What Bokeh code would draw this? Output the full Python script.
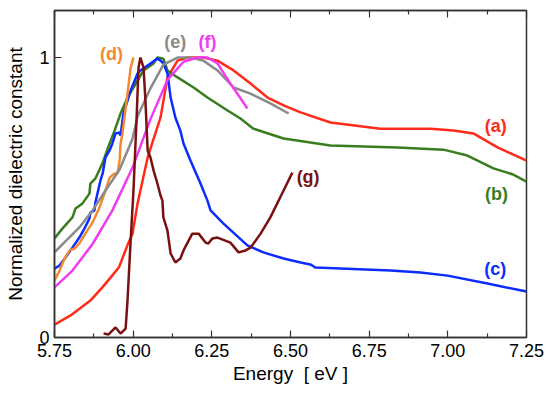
from bokeh.plotting import figure
from bokeh.models import Range1d, FixedTicker, PrintfTickFormatter, LinearAxis
from bokeh.core.properties import value
from bokeh.embed import file_html
from bokeh.resources import INLINE

# ---- data ----
a_x = [5.750, 5.801, 5.864, 5.902, 5.928, 5.955, 5.982, 5.998, 6.014, 6.030, 6.046, 6.087, 6.109,
       6.141, 6.173, 6.223, 6.268, 6.319, 6.373, 6.427, 6.478, 6.532, 6.627, 6.786, 6.945, 7.018,
       7.081, 7.158, 7.250]
a_y = [0.046, 0.079, 0.132, 0.179, 0.214, 0.251, 0.330, 0.371, 0.479, 0.561, 0.643, 0.786, 0.929,
       0.989, 1.000, 1.000, 0.989, 0.954, 0.907, 0.857, 0.829, 0.804, 0.768, 0.746, 0.746, 0.739,
       0.729, 0.679, 0.632]

b_x = [5.750, 5.775, 5.807, 5.817, 5.839, 5.861, 5.864, 5.880, 5.902, 5.925, 5.941, 5.960, 5.982,
       6.014, 6.033, 6.065, 6.077, 6.096, 6.109, 6.141, 6.192, 6.236, 6.300, 6.341, 6.382, 6.478,
       6.627, 6.840, 6.986, 7.062, 7.145, 7.208, 7.250]
b_y = [0.354, 0.389, 0.429, 0.461, 0.479, 0.514, 0.550, 0.568, 0.621, 0.693, 0.739, 0.800, 0.857,
       0.918, 0.954, 0.979, 1.000, 0.996, 0.954, 0.929, 0.893, 0.857, 0.811, 0.782, 0.746, 0.711,
       0.686, 0.679, 0.671, 0.650, 0.604, 0.582, 0.557]

c_x = [5.750, 5.766, 5.785, 5.807, 5.829, 5.845, 5.861, 5.864, 5.877, 5.880, 5.896, 5.903, 5.912,
       5.925, 5.934, 5.944, 5.957, 5.960, 5.969, 5.992, 6.014, 6.023, 6.055, 6.077, 6.087, 6.096,
       6.109, 6.112, 6.119, 6.134, 6.150, 6.160, 6.182, 6.214, 6.236, 6.246, 6.287, 6.363, 6.414,
       6.478, 6.532, 6.563, 6.579, 6.818, 6.913, 6.999, 7.126, 7.250]
c_y = [0.246, 0.257, 0.286, 0.321, 0.357, 0.389, 0.425, 0.446, 0.454, 0.482, 0.561, 0.586, 0.643,
       0.668, 0.693, 0.729, 0.732, 0.721, 0.800, 0.882, 0.943, 0.954, 0.979, 0.996, 0.989, 0.979,
       0.943, 0.918, 0.857, 0.786, 0.739, 0.693, 0.632, 0.550, 0.489, 0.454, 0.407, 0.329, 0.304,
       0.282, 0.268, 0.261, 0.250, 0.239, 0.232, 0.221, 0.193, 0.164]

d_x = [5.750, 5.766, 5.782, 5.798, 5.814, 5.829, 5.848, 5.871, 5.893, 5.912, 5.925, 5.941, 5.950,
       5.957, 5.960, 5.966, 5.982, 5.992, 6.001]
d_y = [0.204, 0.239, 0.282, 0.311, 0.318, 0.336, 0.371, 0.411, 0.464, 0.525, 0.571, 0.586, 0.586,
       0.632, 0.693, 0.729, 0.871, 0.964, 1.000]

e_x = [5.750, 5.787, 5.829, 5.871, 5.912, 5.957, 5.998, 6.014, 6.055, 6.096, 6.141, 6.182, 6.223,
       6.268, 6.319, 6.373, 6.436, 6.494]
e_y = [0.304, 0.346, 0.393, 0.454, 0.525, 0.600, 0.710, 0.790, 0.890, 0.975, 1.000, 1.000, 0.989,
       0.954, 0.893, 0.871, 0.836, 0.800]

f_x = [5.750, 5.807, 5.871, 5.934, 5.998, 6.030, 6.055, 6.109, 6.160, 6.204, 6.236, 6.268, 6.309,
       6.363]
f_y = [0.179, 0.239, 0.334, 0.454, 0.607, 0.704, 0.780, 0.920, 0.985, 1.000, 1.000, 0.979, 0.907,
       0.818]

g_x = [5.906, 5.922, 5.944, 5.960, 5.976, 5.982, 5.992, 6.001, 6.011, 6.017, 6.023, 6.033, 6.039,
       6.046, 6.055, 6.065, 6.077, 6.087, 6.093, 6.096, 6.109, 6.119, 6.134, 6.150, 6.160, 6.188,
       6.208, 6.230, 6.239, 6.252, 6.268, 6.309, 6.335, 6.357, 6.373, 6.405, 6.436, 6.478, 6.506]
g_y = [0.014, 0.011, 0.036, 0.014, 0.032, 0.132, 0.346, 0.525, 0.786, 0.964, 1.000, 0.964, 0.846,
       0.668, 0.643, 0.596, 0.550, 0.507, 0.489, 0.429, 0.382, 0.300, 0.268, 0.282, 0.311, 0.371,
       0.371, 0.339, 0.336, 0.354, 0.357, 0.339, 0.304, 0.311, 0.321, 0.371, 0.429, 0.525, 0.589]

series_names = ["(a)", "(b)", "(c)", "(d)", "(e)", "(f)", "(g)"]
series_colors = ["#ff2a1a", "#3a7d1f", "#0d2cff", "#f28a30", "#8a8a8a", "#f03cf0", "#7a1010"]
label_x = [7.152, 7.155, 7.151, 5.931, 6.134, 6.236, 6.556]
label_y = [0.757, 0.511, 0.246, 1.011, 1.057, 1.057, 0.575]

x_ticks = [5.75, 6.00, 6.25, 6.50, 6.75, 7.00, 7.25]
x_minor = [5.875, 6.125, 6.375, 6.625, 6.875, 7.125]
y_ticks = [0, 1]

FONT = "Liberation Sans"
AX = "#333333"

p = figure(width=550, height=396, output_backend="svg", toolbar_location=None,
           x_range=Range1d(5.75, 7.25), y_range=Range1d(0, 1.168),
           min_border_left=54, min_border_right=24, min_border_top=10, min_border_bottom=59)
p.background_fill_color = "white"
p.border_fill_color = "white"
p.xgrid.visible = False
p.ygrid.visible = False
p.outline_line_color = AX
p.outline_line_width = 1.5

xs = [a_x, b_x, c_x, d_x, e_x, f_x, g_x]
ys = [a_y, b_y, c_y, d_y, e_y, f_y, g_y]
for sx, sy, col in zip(xs, ys, series_colors):
    p.line(sx, sy, line_color=col, line_width=2.5)

p.text(x=label_x, y=label_y, text=series_names, text_color=series_colors,
       text_font=value(FONT), text_font_style="bold", text_font_size="18px",
       text_align="center", text_baseline="middle")

xa = p.xaxis[0]
xa.ticker = FixedTicker(ticks=x_ticks, minor_ticks=x_minor)
xa.formatter = PrintfTickFormatter(format="%.2f")
xa.axis_label = "Energy \u00a0[ eV ]"
xa.major_tick_in = 7
xa.major_tick_out = 0
xa.minor_tick_in = 4
xa.minor_tick_out = 0
xa.major_label_standoff = 6
xa.axis_label_standoff = 3

ya = p.yaxis[0]
ya.ticker = FixedTicker(ticks=y_ticks, minor_ticks=[])
ya.major_label_overrides = {0: "0", 1: "1"}
ya.axis_label = "Normalized dielectric constant"
ya.major_tick_in = 7
ya.major_tick_out = 0
ya.minor_tick_in = 0
ya.minor_tick_out = 0
ya.major_label_standoff = 5
ya.axis_label_standoff = 10

for ax in [xa, ya]:
    ax.axis_line_color = AX
    ax.axis_line_width = 1.5
    ax.major_tick_line_color = AX
    ax.major_tick_line_width = 1.2
    ax.minor_tick_line_color = AX
    ax.minor_tick_line_width = 1.2
    ax.major_label_text_font = FONT
    ax.major_label_text_font_size = "18px"
    ax.major_label_text_color = "black"
    ax.axis_label_text_font = FONT
    ax.axis_label_text_font_size = "19px"
    ax.axis_label_text_font_style = "normal"
    ax.axis_label_text_color = "black"

top = LinearAxis(ticker=FixedTicker(ticks=x_ticks, minor_ticks=x_minor))
top.major_label_overrides = {t: "" for t in x_ticks}
top.major_label_text_font_size = "1px"
top.major_label_standoff = 0
top.major_tick_in = 7
top.major_tick_out = 0
top.minor_tick_in = 4
top.minor_tick_out = 0
top.axis_line_color = AX
top.axis_line_width = 1.5
top.major_tick_line_color = AX
top.major_tick_line_width = 1.2
top.minor_tick_line_color = AX
top.minor_tick_line_width = 1.2
p.add_layout(top, "above")

open("out.html", "w").write(file_html(p, INLINE))
